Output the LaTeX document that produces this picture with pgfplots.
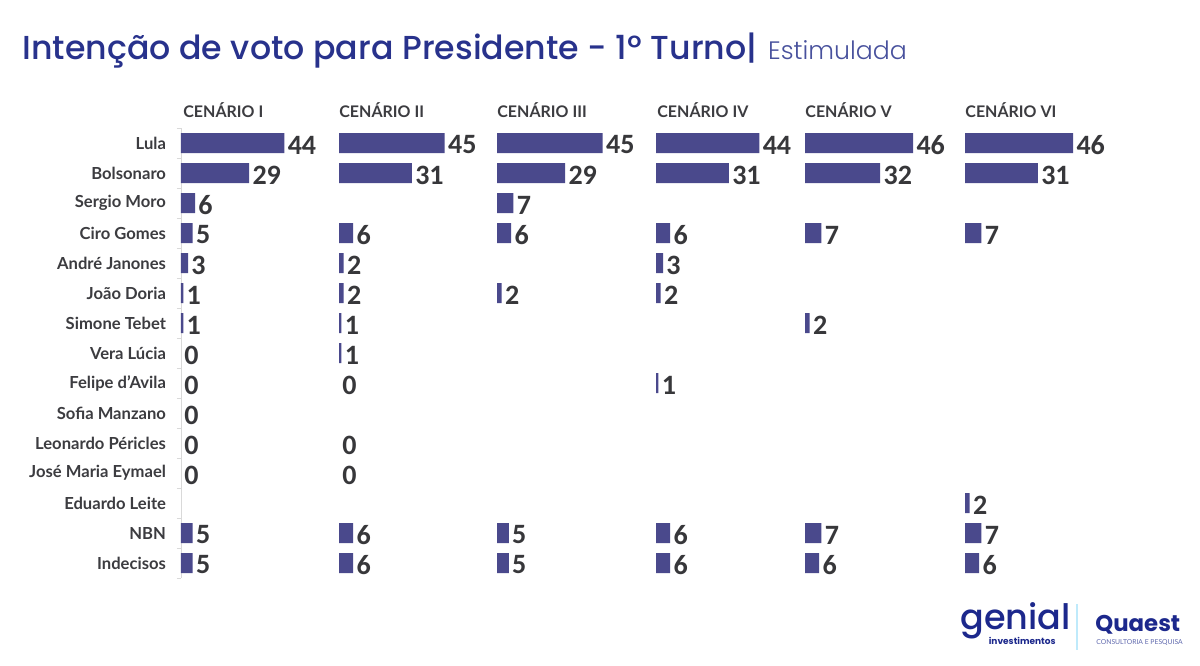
\documentclass[border=0pt]{standalone}
\usepackage{pgfplots}
\pgfplotsset{compat=1.18}
\usepackage{fontspec}
\setmainfont{Lato}
\newfontfamily\valfont{Carlito}
\newfontfamily\titlefont{Poppins}
\newfontfamily\titlemed{Poppins Medium}
\newfontfamily\titlelight{Poppins Light}
\definecolor{barblue}{RGB}{74,73,140}
\definecolor{valgray}{RGB}{55,55,58}
\definecolor{labgray}{RGB}{60,60,64}
\definecolor{titleblue}{RGB}{40,50,140}
\definecolor{logoblue}{RGB}{28,40,140}
\pgfplotsset{panel/.style={xbar, bar shift=0pt, scale only axis, width=58.75pt, height=225pt,
  xmin=0, xmax=50, ymin=-0.5, ymax=14.5, y dir=reverse, bar width=10pt,
  clip=false, anchor=north west,
  /pgf/number format/assume math mode=true,
  nodes near coords, point meta=x,
  nodes near coords style={font=\valfont\bfseries\fontsize{14}{14}\selectfont, text=valgray, anchor=west, inner sep=1.5pt, yshift=-1pt}},
  bars/.style={fill=barblue, draw=none},
  zeros/.style={fill=none, draw=none}}
\begin{document}
\begin{tikzpicture}
\fill[white] (0,0) rectangle (600pt,-332.5pt);
% Panel I
\begin{axis}[panel, at={(90.5pt,-64pt)},
  axis x line=none, axis y line=left, y axis line style={-, draw=gray!30},
  ytick={0,...,14},
  yticklabels={Lula,Bolsonaro,Sergio Moro,Ciro Gomes,André Janones,João Doria,Simone Tebet,Vera Lúcia,Felipe d'Avila,Sofia Manzano,Leonardo Péricles,José Maria Eymael,Eduardo Leite,NBN,Indecisos},
  major tick length=0pt,
  minor ytick={-0.5,0.5,...,14.5}, minor tick length=2pt, tick align=outside,
  minor tick style={draw=gray!30},
  yticklabel style={font=\bfseries\fontsize{8.3}{9}\selectfont, text=labgray, xshift=-4pt}]
\addplot[bars] coordinates {(44,0) (29,1) (6,2) (5,3) (3,4) (1,5) (1,6) (5,13) (5,14)};
\addplot[zeros] coordinates {(0,7) (0,8) (0,9) (0,10) (0,11)};
\end{axis}
% Panel II
\begin{axis}[panel, at={(169.5pt,-64pt)}, axis lines=none]
\addplot[bars] coordinates {(45,0) (31,1) (6,3) (2,4) (2,5) (1,6) (1,7) (6,13) (6,14)};
\addplot[zeros] coordinates {(0,8) (0,10) (0,11)};
\end{axis}
% Panel III
\begin{axis}[panel, at={(248.5pt,-64pt)}, axis lines=none]
\addplot[bars] coordinates {(45,0) (29,1) (7,2) (6,3) (2,5) (5,13) (5,14)};
\end{axis}
% Panel IV
\begin{axis}[panel, at={(328pt,-64pt)}, axis lines=none]
\addplot[bars] coordinates {(44,0) (31,1) (6,3) (3,4) (2,5) (1,8) (6,13) (6,14)};
\end{axis}
% Panel V
\begin{axis}[panel, at={(402.5pt,-64pt)}, axis lines=none]
\addplot[bars] coordinates {(46,0) (32,1) (7,3) (2,6) (7,13) (6,14)};
\end{axis}
% Panel VI
\begin{axis}[panel, at={(482.5pt,-64pt)}, axis lines=none]
\addplot[bars] coordinates {(46,0) (31,1) (7,3) (2,12) (7,13) (6,14)};
\end{axis}
% headers
\foreach \xx/\tt in {91.5/I,169.5/II,248.5/III,328.5/IV,402.5/V,482.5/VI}
  \node[anchor=west, inner sep=0pt, font=\bfseries\fontsize{8}{9}\selectfont, text=labgray] at (\xx pt,-55pt) {CENÁRIO \tt};
% title
\node[anchor=base west, inner sep=0pt, font=\titlemed\fontsize{16.6}{17}\selectfont, text=titleblue] (t) at (11pt,-29.5pt) {Intenção de voto para Presidente - 1º Turno|};
\node[anchor=base west, inner sep=0pt, font=\titlelight\fontsize{12.6}{13}\selectfont, text=titleblue!85] at ([xshift=5pt]t.base east) {Estimulada};
% logos
\node[anchor=base west, inner sep=0pt, font=\titlemed\fontsize{17.5}{18}\selectfont, text=logoblue] at (480pt,-314.5pt) {\smash{genial}};
\node[anchor=base east, inner sep=0pt, font=\titlefont\bfseries\fontsize{4.5}{5}\selectfont, text=logoblue] at (528pt,-322pt) {investimentos};
\draw[cyan!25, line width=0.6pt] (538.5pt,-302pt) -- (538.5pt,-325pt);
\node[anchor=base west, inner sep=0pt, font=\titlefont\bfseries\fontsize{11.4}{12}\selectfont, text=logoblue] at (547.5pt,-315.5pt) {Quaest};
\node[anchor=base west, inner sep=0pt, font=\fontsize{3.4}{4}\selectfont, text=logoblue!70] at (548pt,-322pt) {CONSULTORIA E PESQUISA};
\end{tikzpicture}
\end{document}
